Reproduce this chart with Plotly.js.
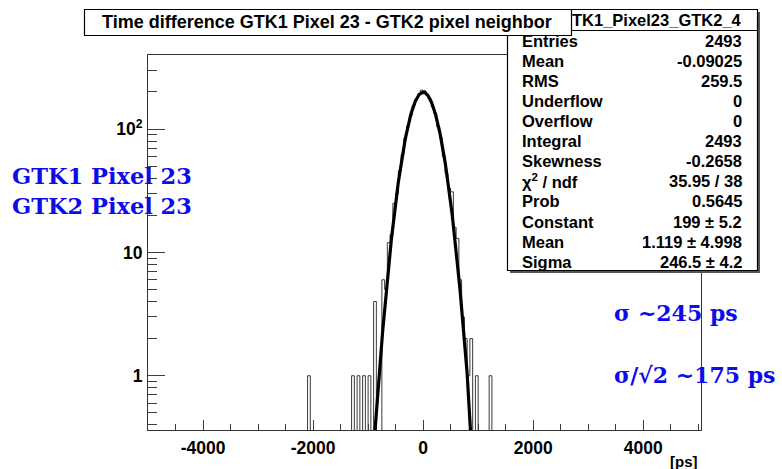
<!DOCTYPE html>
<html>
<head>
<meta charset="utf-8">
<script src="https://cdn.plot.ly/plotly-3.0.1.min.js"></script>
<style>html,body{margin:0;padding:0;background:#fff;}#plot{width:782px;height:469px;}</style>
</head>
<body>
<div id="plot"></div>
<script>
// ---------------- data ----------------
const binWidth = 50;           // ps
const histMin = -5000, histMax = 5000;
const binCenters = [-2075, -1275, -1175, -1075, -975, -875, -725, -675, -625, -575,
  -525, -475, -425, -375, -325, -275, -225, -175, -125, -75, -25, 25, 75, 125, 175,
  225, 275, 325, 375, 425, 475, 525, 575, 625, 675, 725, 775, 825, 875, 975, 1225];
const binCounts = [1, 1, 1, 1, 1, 4, 6, 5, 12, 14,
  25, 30, 46, 62, 84, 106, 128, 155, 174, 192, 207, 205, 188, 176, 152,
  133, 104, 85, 60, 44, 33, 31, 16, 13, 6, 3, 2, 1, 2, 1, 1];

// Gaussian fit parameters (from the stats box)
const fitConstant = 199, fitMean = 1.119, fitSigma = 246.5;
const fitRange = [-3000, 3000];

const xTickVals = [-4000, -2000, 0, 2000, 4000];
const xTickText = ['-4000', '-2000', '0', '2000', '4000'];
const yTickVals = [1, 10, 100];
const yTickText = ['1', '10', '10<sup>2</sup>'];
const yDecades = [0.1, 1, 10, 100];
const yMinorDigits = [2, 3, 4, 5, 6, 7, 8, 9];

const statsLabels = ['Entries', 'Mean', 'RMS', 'Underflow', 'Overflow', 'Integral', 'Skewness',
  '\u03C7<sup>2</sup> / ndf', 'Prob', 'Constant', 'Mean', 'Sigma'];
const statsValues = ['2493', '-0.09025', '259.5', '0', '0', '2493', '-0.2658',
  '35.95 / 38', '0.5645', '199 \u00B1 5.2', '1.119 \u00B1 4.998', '246.5 \u00B1 4.2'];
const statsName = 'TK1_Pixel23_GTK2_4';
const titleText = 'Time difference GTK1 Pixel 23 - GTK2 pixel neighbor';
const leftNotes = ['GTK1 Pixel 23', 'GTK2 Pixel 23'];
const rightNotes = ['\u03C3 ~245 ps', '\u03C3/\u221A2 ~175 ps'];
const xUnit = '[ps]';

// ---------------- build traces ----------------
const nBins = Math.round((histMax - histMin) / binWidth);
const contents = new Array(nBins).fill(0);
binCenters.forEach((c, i) => {
  const k = Math.floor((c - histMin) / binWidth);
  contents[k] = binCounts[i];
});
const floorVal = 1e-3; // empty bins drawn below the visible range
const hx = [], hy = [];
for (let k = 0; k < nBins; k++) {
  hx.push(histMin + k * binWidth);
  hy.push(contents[k] > 0 ? contents[k] : floorVal);
}
hx.push(histMax); hy.push(hy[hy.length - 1]);

const fx = [], fy = [];
for (let x = fitRange[0]; x <= fitRange[1]; x += 5) {
  fx.push(x);
  fy.push(fitConstant * Math.exp(-0.5 * Math.pow((x - fitMean) / fitSigma, 2)));
}

const traces = [
  {x: hx, y: hy, type: 'scatter', mode: 'lines', line: {shape: 'hv', color: '#3a3a3a', width: 1}, hoverinfo: 'skip'},
  {x: fx, y: fy, type: 'scatter', mode: 'lines', yaxis: 'y2', line: {color: '#000', width: 3.2}, hoverinfo: 'skip'}
];

const yMinorVals = [];
yDecades.forEach(d => yMinorDigits.forEach(m => yMinorVals.push(d * m)));

// ---------------- layout ----------------
const W = 782, H = 469;
const M = {l: 148, r: 81, t: 55, b: 39};
const PW = W - M.l - M.r, PH = H - M.t - M.b;
const px = X => (X - M.l) / PW;
const py = Y => (H - M.b - Y) / PH;

const ann = [];
const statFont = {family: 'Liberation Sans, Arial, sans-serif', size: 16.5, color: '#000'};
statsLabels.forEach((s, i) => {
  const y = 40.8 + 20.08 * i;
  ann.push({xref: 'paper', yref: 'paper', x: px(520), y: py(y), xanchor: 'left', yanchor: 'middle',
    text: '<b>' + s + '</b>', showarrow: false, font: statFont});
  ann.push({xref: 'paper', yref: 'paper', x: px(744), y: py(y), xanchor: 'right', yanchor: 'middle',
    text: '<b>' + statsValues[i] + '</b>', showarrow: false, font: statFont});
});
ann.push({xref: 'paper', yref: 'paper', x: px(744), y: py(20), xanchor: 'right', yanchor: 'middle',
  text: '<b>' + statsName + '</b>', showarrow: false, font: statFont});
ann.push({xref: 'paper', yref: 'paper', x: px(327), y: py(22), xanchor: 'center', yanchor: 'middle',
  text: '<b>' + titleText + '</b>', showarrow: false,
  font: {family: 'Liberation Sans, Arial, sans-serif', size: 18, color: '#000'}});
const blueFont = {family: 'DejaVu Serif, serif', size: 22.5, color: 'rgb(12,12,235)'};
leftNotes.forEach((s, i) => {
  ann.push({xref: 'paper', yref: 'paper', x: px(10), y: py(176 + 30 * i), xanchor: 'left', yanchor: 'middle',
    text: '<b>' + s + '</b>', showarrow: false, font: blueFont});
});
rightNotes.forEach((s, i) => {
  ann.push({xref: 'paper', yref: 'paper', x: px(612), y: py(313 + 62 * i), xanchor: 'left', yanchor: 'middle',
    text: '<b>' + s + '</b>', showarrow: false, font: Object.assign({}, blueFont, {size: 22})});
});
ann.push({xref: 'paper', yref: 'paper', x: px(699), y: py(461), xanchor: 'right', yanchor: 'middle',
  text: '<b>' + xUnit + '</b>', showarrow: false, borderpad: 0,
  font: {family: 'Liberation Sans, Arial, sans-serif', size: 15, color: '#000', weight: 'bold'}});

const rect = (x0, y0, x1, y1, fill, lw, lc) => ({type: 'rect', xref: 'paper', yref: 'paper',
  x0: px(x0), x1: px(x1), y0: py(y1), y1: py(y0), fillcolor: fill,
  line: {width: lw, color: lc || '#000'}, layer: 'above'});
const shapes = [
  rect(510, 12, 760, 273, '#555', 0),
  rect(507.5, 9.5, 757.5, 270.5, '#fff', 1.2),
  {type: 'line', xref: 'paper', yref: 'paper', x0: px(507.5), x1: px(757.5), y0: py(30.5), y1: py(30.5),
    line: {width: 1.2, color: '#000'}, layer: 'above'},
  rect(84.5, 9.5, 571.5, 35.5, '#fff', 1.2)
];

const tickFont = {family: 'Liberation Sans, Arial, sans-serif', size: 17.5, color: '#000', weight: 'bold'};
const bold = a => a.map(s => '<b>' + s + '</b>');
const yRange = [-0.44, 2.601];
const tickCol = '#3c3c3c';
const layout = {
  width: W, height: H,
  margin: M,
  paper_bgcolor: '#fff', plot_bgcolor: '#fff',
  showlegend: false,
  xaxis: {
    range: [-5000, 5050], showgrid: false, zeroline: false,
    showline: true, linecolor: '#333', linewidth: 1, mirror: true,
    ticks: 'inside', ticklen: 10, tickcolor: tickCol, tickwidth: 1,
    tickvals: xTickVals, ticktext: bold(xTickText), tickfont: tickFont, ticklabelstandoff: 2,
    minor: {ticks: 'inside', dtick: 500, tick0: 0, ticklen: 6, tickcolor: tickCol, tickwidth: 1, showgrid: false}
  },
  yaxis: {
    type: 'log', range: yRange, showgrid: false, zeroline: false,
    showline: true, linecolor: '#333', linewidth: 1, mirror: true,
    ticks: 'inside', ticklen: 17, tickcolor: tickCol, tickwidth: 1,
    tickvals: yTickVals, ticktext: bold(yTickText), tickfont: tickFont, ticklabelstandoff: 1
  },
  yaxis2: {
    type: 'log', range: yRange, overlaying: 'y', side: 'left', showgrid: false, zeroline: false,
    showline: false, ticks: 'inside', ticklen: 9, tickcolor: tickCol, tickwidth: 1,
    tickvals: yMinorVals, showticklabels: false
  },
  annotations: ann,
  shapes: shapes
};

Plotly.newPlot('plot', traces, layout, {staticPlot: true, displayModeBar: false});
</script>
</body>
</html>
